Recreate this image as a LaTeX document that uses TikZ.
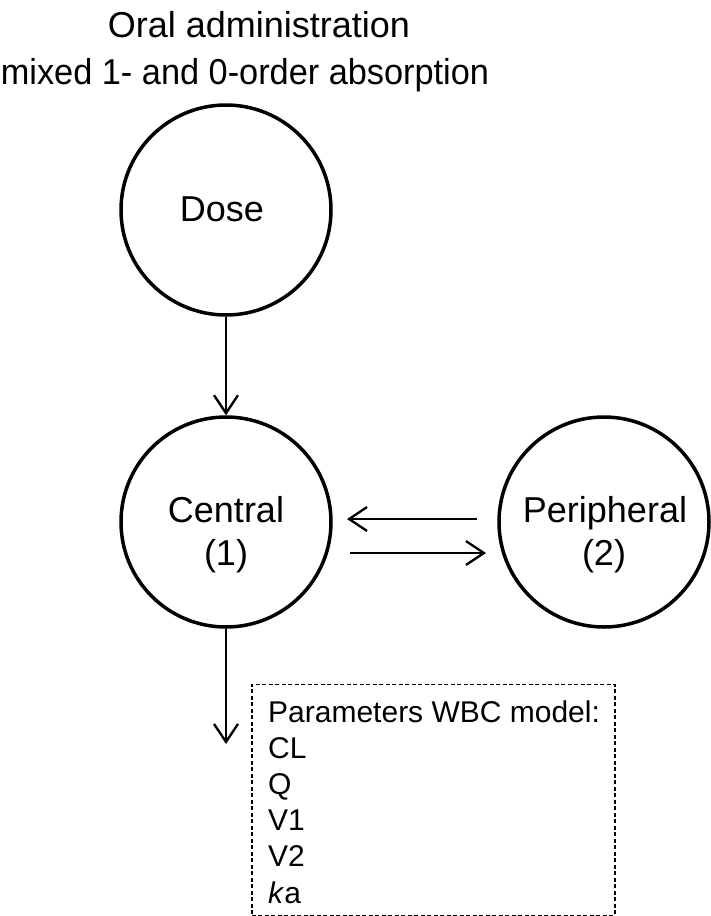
\documentclass[tikz,border=0pt]{standalone}
\usepackage{fontspec}
\setmainfont{Liberation Sans}
\usetikzlibrary{arrows.meta}
\begin{document}
\begin{tikzpicture}[x=1pt,y=-1pt,
  comp/.style={circle,draw,line width=3.5pt,minimum size=210pt,inner sep=0pt},
  flow/.style={line width=2.3pt,-{Straight Barb[length=18pt,width=24pt,line width=2.3pt]}},
  big/.style={font=\fontsize{36}{43}\selectfont,inner sep=0pt,anchor=base},
  par/.style={font=\fontsize{30}{36}\selectfont,inner sep=0pt,anchor=base west}]
\useasboundingbox (0,0) rectangle (711,916);
\node[big] (title1) at (259,37) {Oral administration};
\node[big] (title2) at (245,84) {\scalebox{0.953}[1]{mixed 1- and 0-order absorption}};
\node[comp] (dose) at (226,210) {};
\node[comp] (central) at (226,522) {};
\node[comp] (periph) at (604,522) {};
\node[big] (dosetxt) at (222,221) {Dose};
\node[big] (centralA) at (226,522) {Central};
\node[big] (centralB) at (226,565) {(1)};
\node[big] (periphA) at (605,522) {Peripheral};
\node[big] (periphB) at (604,565) {(2)};
\coordinate (elim) at (226,744);
\draw[flow] (dose.south) -- (central.north);
\draw[flow] (central.south) -- (elim);
\coordinate (a1s) at (477,519);
\coordinate (a1e) at (347,519);
\coordinate (a2s) at (350,553);
\coordinate (a2e) at (486,553);
\draw[flow] (a1s) -- (a1e);
\draw[flow] (a2s) -- (a2e);
\node[draw,line width=1.5pt,dash pattern=on 4pt off 2.5pt,minimum width=363pt,minimum height=231pt,anchor=north west,inner sep=0pt] (box) at (251,683.5) {};
\node[par] (p0) at (268,722) {Parameters WBC model:};
\node[par] (p1) at (268,758.2) {CL};
\node[par] (p2) at (268,794.4) {Q};
\node[par] (p3) at (268,830.6) {V1};
\node[par] (p4) at (268,866.8) {V2};
\node[par] (p5) at (268,903) {\textit{k}a};
\end{tikzpicture}
\end{document}
